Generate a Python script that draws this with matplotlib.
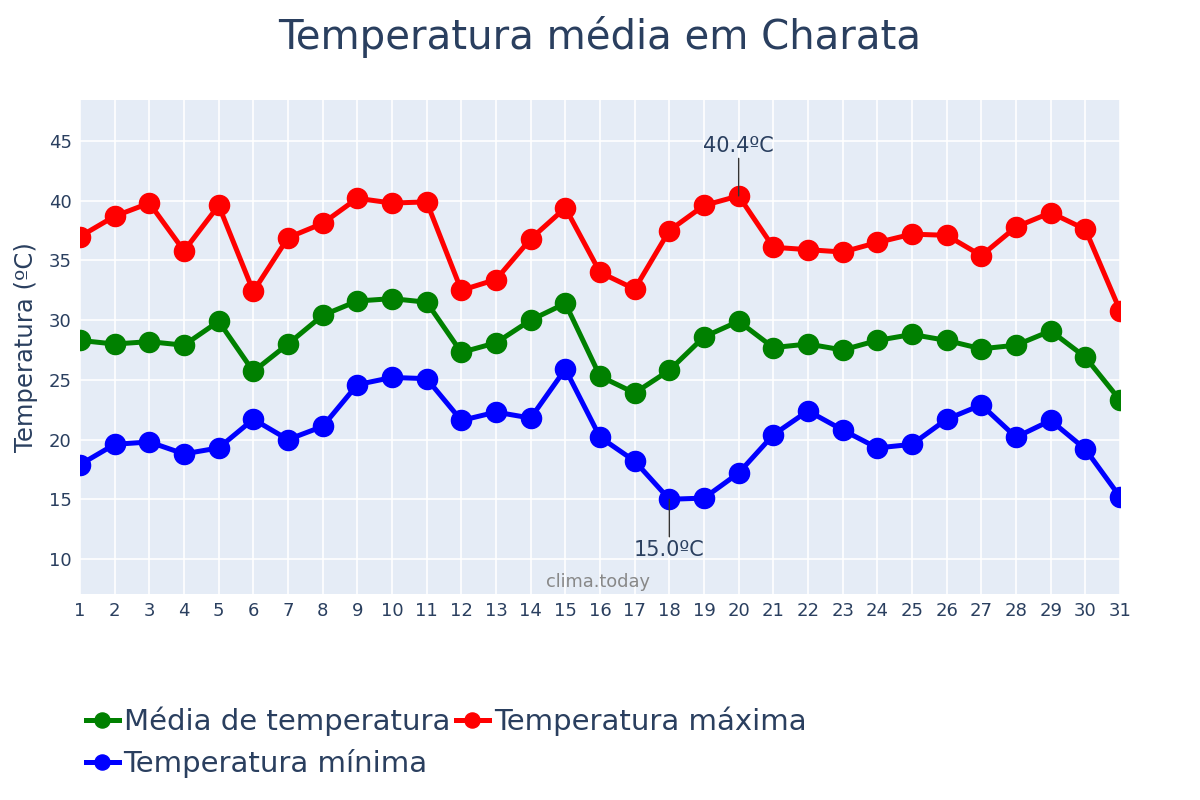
import matplotlib
matplotlib.use("Agg")
import matplotlib.pyplot as plt

plt.rcParams['font.family'] = ['DejaVu Sans']

days = list(range(1, 32))
t_max = [37.0, 38.7, 39.8, 35.8, 39.6, 32.4, 36.9, 38.1, 40.2, 39.8, 39.9, 32.5, 33.4, 36.8, 39.4,
         34.0, 32.6, 37.5, 39.6, 40.4, 36.1, 35.9, 35.7, 36.5, 37.2, 37.1, 35.4, 37.8, 39.0, 37.6, 30.8]
t_mean = [28.3, 28.0, 28.2, 27.9, 29.9, 25.7, 28.0, 30.4, 31.6, 31.8, 31.5, 27.3, 28.1, 30.0, 31.4,
          25.3, 23.9, 25.8, 28.6, 29.9, 27.7, 28.0, 27.5, 28.3, 28.8, 28.3, 27.6, 27.9, 29.1, 26.9, 23.3]
t_min = [17.9, 19.6, 19.8, 18.8, 19.3, 21.7, 20.0, 21.1, 24.6, 25.2, 25.1, 21.6, 22.3, 21.8, 25.9,
         20.2, 18.2, 15.0, 15.1, 17.2, 20.4, 22.4, 20.8, 19.3, 19.6, 21.7, 22.9, 20.2, 21.6, 19.2, 15.2]
y_ticks = [10, 15, 20, 25, 30, 35, 40, 45]

txt = '#2a3f5f'
fig = plt.figure(figsize=(12, 8), dpi=100)
ax = fig.add_axes([80/1200, 1-594/800, 1040/1200, 494/800])
ax.set_facecolor('#e5ecf6')
for s in ax.spines.values():
    s.set_visible(False)

ms = 14.5
lw = 3.6
ax.plot(days, t_mean, color='green', lw=lw, marker='o', ms=ms, label='Média de temperatura', zorder=3)
ax.plot(days, t_max, color='red', lw=lw, marker='o', ms=ms, label='Temperatura máxima', zorder=3)
ax.plot(days, t_min, color='blue', lw=lw, marker='o', ms=ms, label='Temperatura mínima', zorder=3)

ax.set_xlim(1, 31)
ax.set_ylim(7.07, 48.43)
ax.set_xticks(days)
ax.set_yticks(y_ticks)
ax.grid(True, color='white', lw=1.2, zorder=0)
ax.set_axisbelow(True)
ax.tick_params(axis='both', length=0, labelsize=13, labelcolor=txt, pad=6)
ax.set_ylabel('Temperatura (ºC)', fontsize=17.5, color=txt, labelpad=8)

# annotations
imax = t_max.index(max(t_max))
imin = t_min.index(min(t_min))
ax.annotate(f'{t_max[imax]:.1f}ºC', xy=(days[imax], t_max[imax]), xytext=(0, 29),
            textcoords='offset points', ha='center', va='bottom', fontsize=15, color=txt,
            arrowprops=dict(arrowstyle='-', color='#333333', lw=1, shrinkA=0, shrinkB=0))
ax.annotate(f'{t_min[imin]:.1f}ºC', xy=(days[imin], t_min[imin]), xytext=(0, -29),
            textcoords='offset points', ha='center', va='top', fontsize=15, color=txt,
            arrowprops=dict(arrowstyle='-', color='#333333', lw=1, shrinkA=0, shrinkB=0))

fig.text(598/1200, 1-582/800, 'clima.today', ha='center', va='center', fontsize=12.8, color='#888888')
fig.text(0.5, 1-37/800, 'Temperatura média em Charata', ha='center', va='center', fontsize=29, color=txt)

handles, labels = ax.get_legend_handles_labels()
order = [0, 2, 1]
leg = fig.legend([handles[i] for i in order], [labels[i] for i in order],
                 loc='upper left', bbox_to_anchor=(71/1200, 1-692/800), ncol=2, frameon=False,
                 fontsize=21, labelcolor=txt, handlelength=1.15, handletextpad=0.15,
                 columnspacing=0.2, labelspacing=0.45, borderpad=0, markerscale=0.75)

fig.savefig('out.png', dpi=100)
